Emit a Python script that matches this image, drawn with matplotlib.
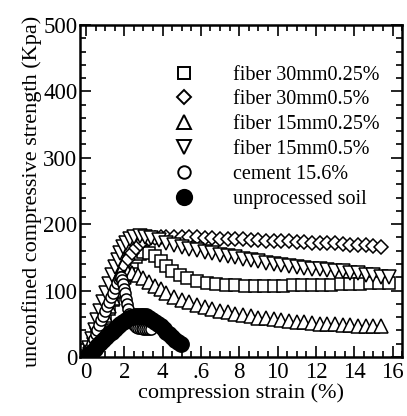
import matplotlib
matplotlib.use("Agg")
import matplotlib.pyplot as plt
from matplotlib.lines import Line2D
from matplotlib.ticker import MultipleLocator

# fiber 30 mm, 0.25 %
sq_x = [0.0, 0.2, 0.4, 0.6, 0.8, 1.0, 1.2, 1.4, 1.6, 1.8, 2.0, 2.2, 2.4, 2.6, 2.8, 3.0,
        3.3, 3.6, 3.9, 4.2, 4.5, 4.9, 5.3,
        5.8, 6.3, 6.8, 7.3, 7.8, 8.3, 8.8, 9.3, 9.8, 10.3, 10.8, 11.3, 11.8, 12.3, 12.8,
        13.3, 13.8, 14.3, 14.8, 15.3, 15.8]
sq_y = [0, 10, 21, 33, 46, 59, 72, 85, 98, 110, 122, 133, 143, 150, 155, 158,
        157, 152, 145, 137, 130, 124, 119,
        115, 112, 110, 109, 108, 107, 107, 107, 107, 107, 108, 108, 108, 109, 109,
        110, 110, 110, 111, 111, 111]

# fiber 30 mm, 0.5 %
dm_x = [0.0, 0.2, 0.4, 0.6, 0.8, 1.0, 1.2, 1.4, 1.6, 1.8, 2.0, 2.2, 2.4, 2.6, 2.8, 3.0,
        3.3, 3.6, 3.9, 4.2,
        4.6, 5.0, 5.4, 5.8, 6.2, 6.6, 7.0, 7.4, 7.8, 8.2, 8.6, 9.0, 9.4, 9.8, 10.2, 10.6,
        11.0, 11.4, 11.8, 12.2, 12.6, 13.0, 13.4, 13.8, 14.2, 14.6, 15.0, 15.4]
dm_y = [0, 14, 29, 44, 59, 74, 88, 102, 115, 127, 138, 148, 157, 164, 170, 174,
        177, 179, 180, 181,
        181, 181, 180, 180, 179, 179, 178, 178, 177, 177, 176, 176, 175, 175, 174, 174,
        173, 173, 172, 172, 171, 171, 170, 169, 169, 168, 167, 166]

# fiber 15 mm, 0.25 %
ut_x = [0.0, 0.2, 0.4, 0.6, 0.8, 1.0, 1.2, 1.4, 1.6, 1.8, 2.0, 2.2, 2.4,
        2.7, 3.0, 3.3, 3.6, 3.9, 4.2,
        4.6, 5.0, 5.4, 5.8, 6.2, 6.6, 7.0, 7.4, 7.8, 8.2, 8.6, 9.0, 9.4, 9.8, 10.2, 10.6,
        11.0, 11.4, 11.8, 12.2, 12.6, 13.0, 13.4, 13.8, 14.2, 14.6, 15.0, 15.4]
ut_y = [0, 12, 24, 37, 50, 63, 76, 89, 101, 112, 121, 126, 127,
        124, 119, 113, 107, 102, 97,
        91, 86, 82, 78, 75, 72, 69, 67, 65, 63, 61, 59, 58, 57, 55, 54,
        53, 52, 51, 50, 49, 49, 48, 48, 47, 47, 47, 47]

# fiber 15 mm, 0.5 %
dt_x = [0.0, 0.15, 0.3, 0.45, 0.6, 0.75, 0.9, 1.05, 1.2, 1.35, 1.5, 1.65, 1.8, 1.95, 2.1,
        2.3, 2.5, 2.8, 3.1, 3.4,
        3.8, 4.2, 4.6, 5.0, 5.4, 5.8, 6.2, 6.6, 7.0, 7.4, 7.8, 8.2, 8.6, 9.0, 9.4, 9.8,
        10.2, 10.6, 11.0, 11.4, 11.8, 12.2, 12.6, 13.0, 13.4, 13.8, 14.2, 14.6, 15.0, 15.4, 15.8]
dt_y = [0, 13, 27, 41, 55, 69, 83, 97, 110, 123, 135, 146, 156, 165, 172,
        178, 181, 182, 181, 179,
        176, 172, 169, 166, 163, 161, 158, 156, 154, 152, 150, 148, 146, 144, 142, 140,
        138, 137, 135, 134, 133, 132, 131, 130, 129, 127, 126, 124, 123, 121, 120]

# cement 15.6 %
cm_x = [0.0, 0.1, 0.2, 0.3, 0.4, 0.5, 0.6, 0.7, 0.8, 0.9, 1.0, 1.1, 1.2, 1.3, 1.4, 1.5,
        1.6, 1.7, 1.8, 1.85, 1.9, 1.95, 2.0, 2.05, 2.1, 2.15, 2.2, 2.25, 2.3,
        2.4, 2.5, 2.6, 2.7, 2.8, 2.9, 3.0, 3.1, 3.2, 3.3, 3.4]
cm_y = [0, 6, 13, 20, 27, 34, 41, 48, 55, 62, 69, 76, 83, 90, 97, 104,
        111, 117, 121, 120, 116, 110, 103, 96, 88, 80, 72, 65, 58,
        52, 48, 45, 44, 43, 43, 42, 42, 42, 42, 42]

# unprocessed soil
so_x = [0.0, 0.15, 0.3, 0.45, 0.6, 0.75, 0.9, 1.05, 1.2, 1.35, 1.5, 1.65, 1.8, 1.95,
        2.1, 2.25, 2.4, 2.55, 2.7, 2.85, 3.0, 3.15, 3.3, 3.45, 3.6, 3.75, 3.9, 4.05,
        4.2, 4.35, 4.5, 4.65, 4.8, 4.95]
so_y = [0, 4, 8, 12, 17, 21, 26, 30, 34, 38, 42, 46, 50, 53, 56, 58, 60, 61, 62, 62,
        62, 61, 59, 56, 53, 50, 46, 42, 38, 34, 30, 26, 22, 19]

labels = ["fiber 30mm0.25%", "fiber 30mm0.5%", "fiber 15mm0.25%",
          "fiber 15mm0.5%", "cement 15.6%", "unprocessed soil"]
x_ticks = [0, 2, 4, 6, 8, 10, 12, 14, 16]
x_ticklabels = ["0", "2", "4", ".6", "8", "10", "12", "14", "16"]
y_ticks = [0, 100, 200, 300, 400, 500]

plt.rcParams["font.family"] = ["Liberation Serif", "DejaVu Serif"]

fig = plt.figure(figsize=(4.07, 4.16), dpi=100)
ax = fig.add_axes([0.197, 0.142, 0.791, 0.798])

series = [
    (sq_x, sq_y, "s", 8.0, "white"),
    (dm_x, dm_y, "D", 7.2, "white"),
    (ut_x, ut_y, "^", 10.0, "white"),
    (dt_x, dt_y, "v", 10.0, "white"),
    (cm_x, cm_y, "o", 8.0, "white"),
    (so_x, so_y, "o", 11.0, "black"),
]
for (xs, ys, mk, ms, fc), lab in zip(series, labels):
    ax.plot(xs, ys, linestyle="none", marker=mk, markersize=ms,
            markerfacecolor=fc, markeredgecolor="black", markeredgewidth=1.1,
            label=lab)

handle_sizes = [9.0, 7.5, 10.5, 10.5, 9.0, 11.0]
handles = []
for (xs, ys, mk, ms, fc), lab, hs in zip(series, labels, handle_sizes):
    handles.append(Line2D([], [], linestyle="none", marker=mk, markersize=hs,
                          markerfacecolor=fc, markeredgecolor="black",
                          markeredgewidth=1.4, label=lab))
ax.legend(handles=handles, loc="upper left", bbox_to_anchor=(0.29, 0.878),
          frameon=False, fontsize=14.5, handlelength=1.0, handletextpad=1.95,
          labelspacing=0.29, borderpad=0, borderaxespad=0)

ax.set_xlim(-0.3, 16.5)
ax.set_ylim(0, 500)
ax.set_xticks(x_ticks)
ax.set_xticklabels(x_ticklabels)
ax.set_yticks(y_ticks)
ax.xaxis.set_minor_locator(MultipleLocator(0.5))
ax.yaxis.set_minor_locator(MultipleLocator(20))
ax.tick_params(which="both", direction="in", top=True, right=True, width=1.2)
ax.tick_params(which="major", length=8, labelsize=16.5, pad=4)
ax.tick_params(which="minor", length=4)
ax.tick_params(axis="y", which="major", pad=2)
for sp in ax.spines.values():
    sp.set_linewidth(1.8)

ax.set_xlabel("compression strain (%)", fontsize=16, labelpad=0)
ax.set_ylabel("unconfined compressive strength (Kpa)", fontsize=16, labelpad=1)

fig.savefig("out.png", dpi=100)
